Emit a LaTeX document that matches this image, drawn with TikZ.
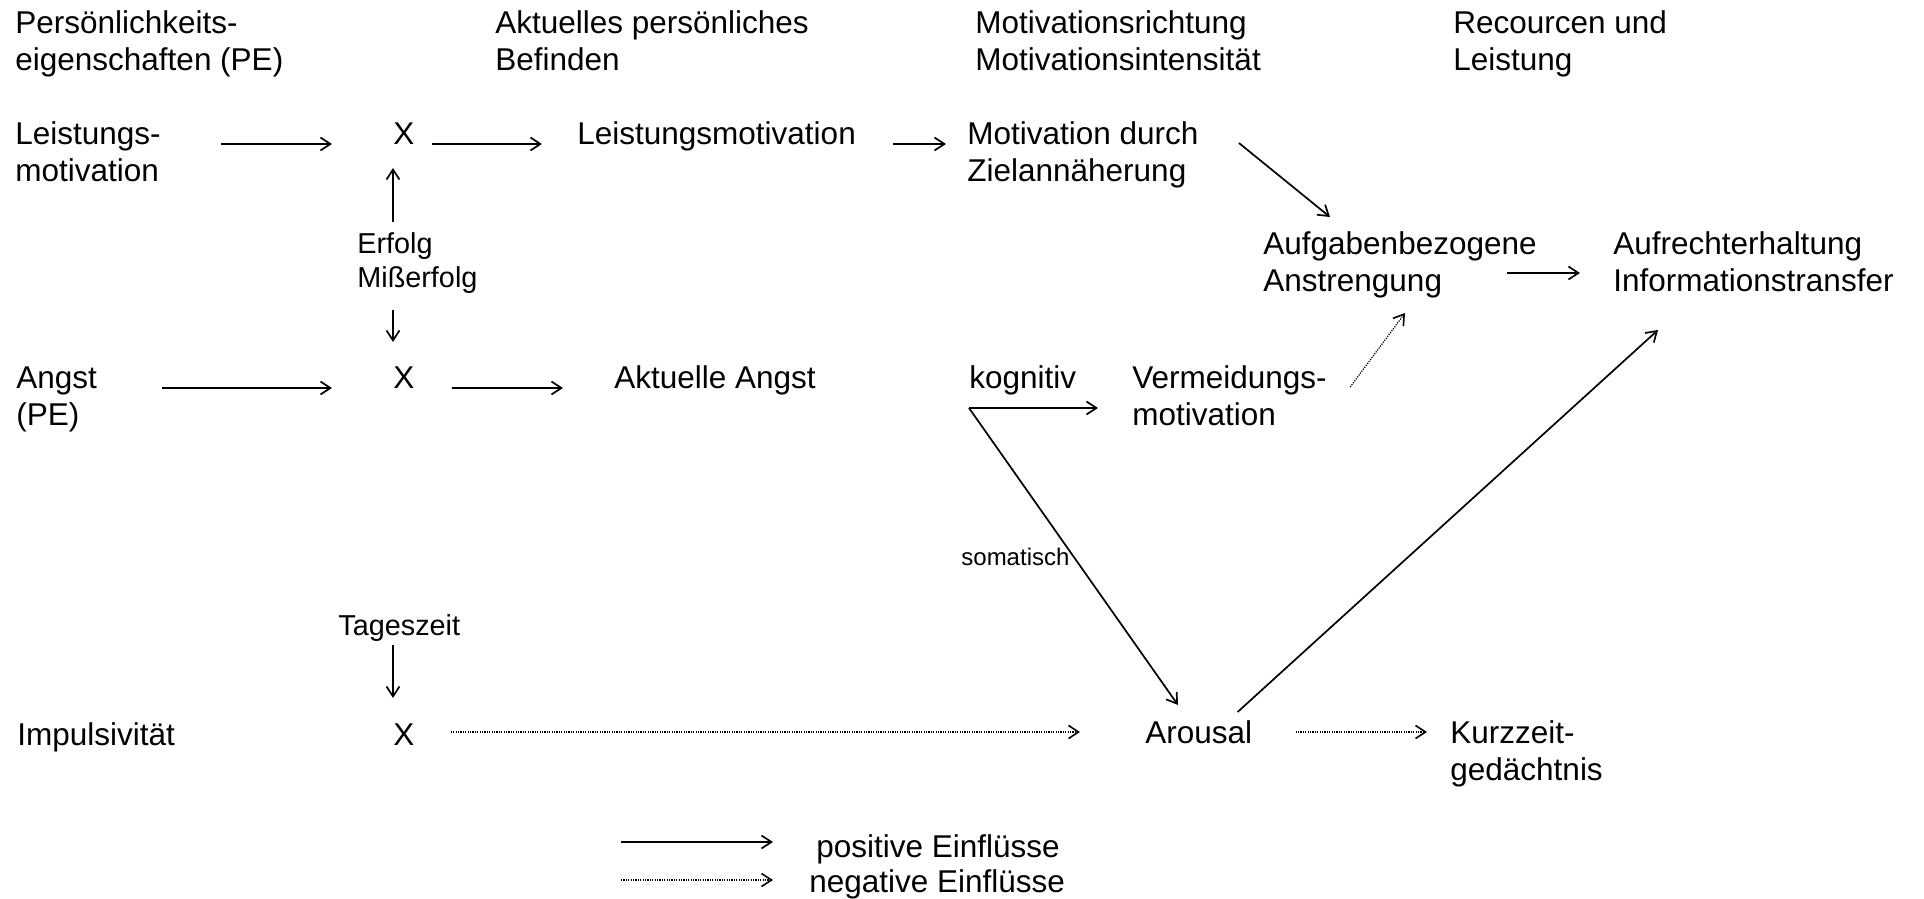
\documentclass[tikz,border=0pt]{standalone}
\usepackage{fontspec}
\setmainfont{Liberation Sans}
\usetikzlibrary{arrows.meta,calc}
\newcommand{\mainsz}{\fontsize{15.75pt}{18.5pt}\selectfont}
\newcommand{\labsz}{\fontsize{14.4pt}{17pt}\selectfont}
\newcommand{\somsz}{\fontsize{12pt}{14pt}\selectfont}
% nodes are placed by the baseline of their last line
\tikzset{
  lbl/.style={anchor=base west, inner sep=0pt, align=left, font=\mainsz},
  side/.style={lbl, font=\labsz},
  posarrow/.style={line width=0.85pt, -{Straight Barb[length=5pt,width=6.5pt]}},
  negarrow/.style={line width=0.6pt, dash pattern=on 0.6pt off 0.6pt,
                   -{Straight Barb[length=5pt,width=6.5pt,line width=0.8pt]}},
}
\begin{document}
\begin{tikzpicture}[x=0.5pt,y=-0.5pt]
\useasboundingbox (0,0) rectangle (1924,899);

% column headings
\node[lbl] (h1) at (15,71)   {Persönlichkeits-\\eigenschaften (PE)};
\node[lbl] (h2) at (495,71)  {Aktuelles persönliches\\Befinden};
\node[lbl] (h3) at (975,71)  {Motivationsrichtung\\Motivationsintensität};
\node[lbl] (h4) at (1453,71) {Recourcen und\\Leistung};

% achievement motivation row
\node[lbl]  (lm)   at (15,182)  {Leistungs-\\motivation};
\node[lbl]  (x1)   at (393,145) {X};
\node[lbl]  (lmot) at (577,145) {Leistungsmotivation};
\node[lbl]  (mdz)  at (967,182) {Motivation durch\\Zielannäherung};
\node[side] (ef)   at (357,287) {Erfolg\\Mißerfolg};

% anxiety row
\node[lbl] (angst) at (16,425)   {Angst\\(PE)};
\node[lbl] (x2)    at (393,388)  {X};
\node[lbl] (aang)  at (614,388)  {Aktuelle Angst};
\node[lbl] (kog)   at (969,388)  {kognitiv};
\node[lbl] (verm)  at (1132,425) {Vermeidungs-\\motivation};
\node[lbl] (aufg)  at (1263,292) {Aufgabenbezogene\\Anstrengung};
\node[lbl] (aufr)  at (1613,292) {Aufrechterhaltung\\Informationstransfer};
\node[lbl, font=\somsz] (som) at (961,565) {somatisch};

% impulsivity row
\node[side] (tz)   at (338,635)  {Tageszeit};
\node[lbl]  (imp)  at (17,745)   {Impulsivität};
\node[lbl]  (x3)   at (393,745)  {X};
\node[lbl]  (arou) at (1145,743) {Arousal};
\node[lbl]  (kurz) at (1450,780) {Kurzzeit-\\gedächtnis};

% legend
\node[lbl] (lpos) at (816,857) {positive Einflüsse};
\node[lbl] (lneg) at (809,892) {negative Einflüsse};

\coordinate (split) at ($(kog.base west)+(0,20)$);

% connectors, row 1
\draw[posarrow] ($(lm.base east)+(60,-38)$) -- ($(x1.base west)+(-61,-1)$);
\draw[posarrow] ($(x1.base east)+(17,-1)$) -- ($(lmot.base west)+(-35,-1)$);
\draw[posarrow] ($(lmot.base east)+(37,-1)$) -- ($(mdz.base west)+(-21,-38)$);
\draw[posarrow] ($(mdz.base east)+(40,-39)$) -- ($(aufg.base west)+(67,-75)$);
\draw[posarrow] ($(ef.north -| x1.base west)+(0,-10)$) -- ($(x1.base west)+(0,23)$);
\draw[posarrow] ($(ef.south -| x2.base west)+(0,17)$) -- ($(x2.base west)+(0,-46)$);

% connectors, row 2
\draw[posarrow] ($(angst.base east)+(65,-37)$) -- ($(x2.base west)+(-61,0)$);
\draw[posarrow] ($(x2.base east)+(37,0)$) -- ($(aang.base west)+(-51,0)$);
\draw[posarrow] (split) -- ($(split -| verm.base west)+(-34,0)$);
\draw[posarrow] (split) -- ($(arou.base west)+(33,-38)$);
\draw[negarrow] ($(verm.base east)+(23,-38)$) -- ($(aufg.base west)+(142,21)$);
\draw[posarrow] ($(aufg.base west)+(244,-19)$) -- ($(aufr.base west)+(-33,-19)$);

% connectors, row 3
\draw[posarrow] ($(tz.south -| x3.base west)+(0,4)$) -- ($(x3.base west)+(0,-47)$);
\draw[negarrow] ($(x3.base east)+(36,-13)$) -- ($(arou.base west)+(-65,-11)$);
\draw[negarrow] ($(arou.base east)+(43,-11)$) -- ($(kurz.base west)+(-23,-48)$);
\draw[posarrow] ($(arou.base east)+(-15,-31)$) -- ($(aufr.base west)+(45,38)$);

% legend arrows
\draw[posarrow] ($(lpos.base west)+(-195,-15)$) -- ($(lpos.base west)+(-43,-15)$);
\draw[negarrow] ($(lneg.base west)+(-188,-12)$) -- ($(lneg.base west)+(-36,-12)$);
\end{tikzpicture}
\end{document}
